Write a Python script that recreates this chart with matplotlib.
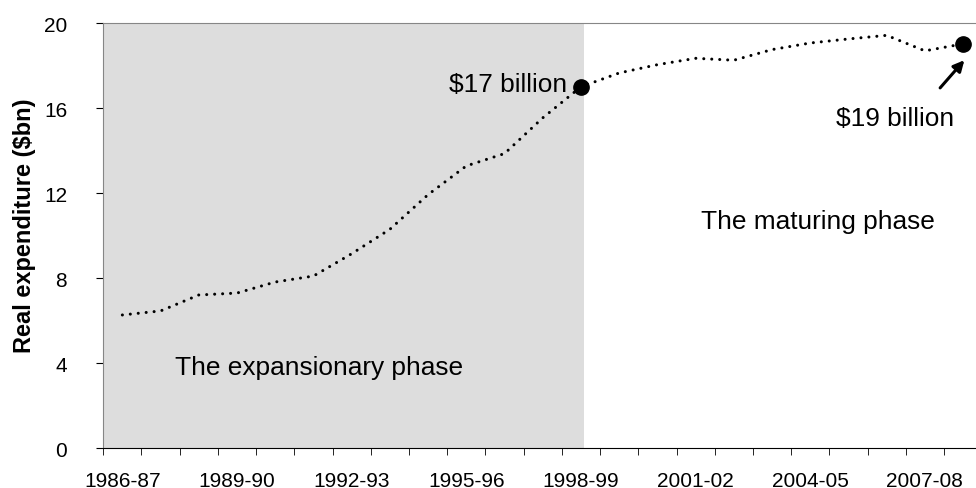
import matplotlib.pyplot as plt
import numpy as np

plt.rcParams['font.family'] = ['Liberation Sans', 'DejaVu Sans']

years = ['1986-87', '1987-88', '1988-89', '1989-90', '1990-91', '1991-92',
         '1992-93', '1993-94', '1994-95', '1995-96', '1996-97', '1997-98',
         '1998-99', '1999-00', '2000-01', '2001-02', '2002-03', '2003-04',
         '2004-05', '2005-06', '2006-07', '2007-08', '2008-09']
spend = [6.27, 6.46, 7.21, 7.30, 7.82, 8.10, 9.15, 10.30, 11.93, 13.28, 13.86,
         15.54, 17.0, 17.65, 18.04, 18.34, 18.25, 18.75, 19.06, 19.25, 19.42,
         18.69, 19.02]
highlight = [12, 22]
yticks = [0, 4, 8, 12, 16, 20]

x = np.arange(len(years))

fig = plt.figure(figsize=(9.76, 4.89), dpi=100)
ax = fig.add_axes([0.1058, 0.0812, 0.9006, 0.8697])

# shaded expansion period
ax.axvspan(-0.5, 12.08, color='#dddddd', zorder=0, lw=0)

ax.plot(x, spend, color='black', lw=2.2, linestyle=(0, (0.01, 2.6)),
        dash_capstyle='round', zorder=3)
ax.plot(x[highlight], [spend[i] for i in highlight], 'o', color='black',
        ms=11, zorder=4)

ax.set_xlim(-0.5, len(years) - 0.5)
ax.set_ylim(0, 20)
ax.set_yticks(yticks)
ax.set_xticks(np.arange(-0.5, len(years), 1), minor=True)
ax.set_xticks(x[::3])
ax.set_xticklabels(years[::3])
ax.tick_params(axis='x', which='major', length=0, pad=16, labelsize=15)
ax.tick_params(axis='x', which='minor', length=5, color='black', direction='out')
ax.tick_params(axis='y', length=5, pad=21, labelsize=15, color='black')

ax.spines['right'].set_visible(False)
ax.spines['top'].set_color('#868686')
ax.spines['left'].set_color('#868686')
ax.spines['bottom'].set_color('black')

ax.set_ylabel('Real expenditure ($bn)', fontsize=17, fontweight='bold')
ax.yaxis.set_label_coords(-0.076, 0.525)

ax.text(11.64, 16.82, '$17 billion', ha='right', va='baseline', fontsize=18.9)
ax.text(20.22, 15.21, '$19 billion', ha='center', va='baseline', fontsize=18.9)
ax.annotate('', xy=(22.08, 18.35), xytext=(21.35, 16.85),
            arrowprops=dict(arrowstyle='-|>', color='black', lw=2.2,
                            mutation_scale=16))
ax.text(5.15, 3.5, 'The expansionary phase', ha='center', va='baseline',
        fontsize=18.9)
ax.text(18.21, 10.35, 'The maturing phase', ha='center', va='baseline',
        fontsize=18.9)

fig.savefig('out.png', dpi=100)
